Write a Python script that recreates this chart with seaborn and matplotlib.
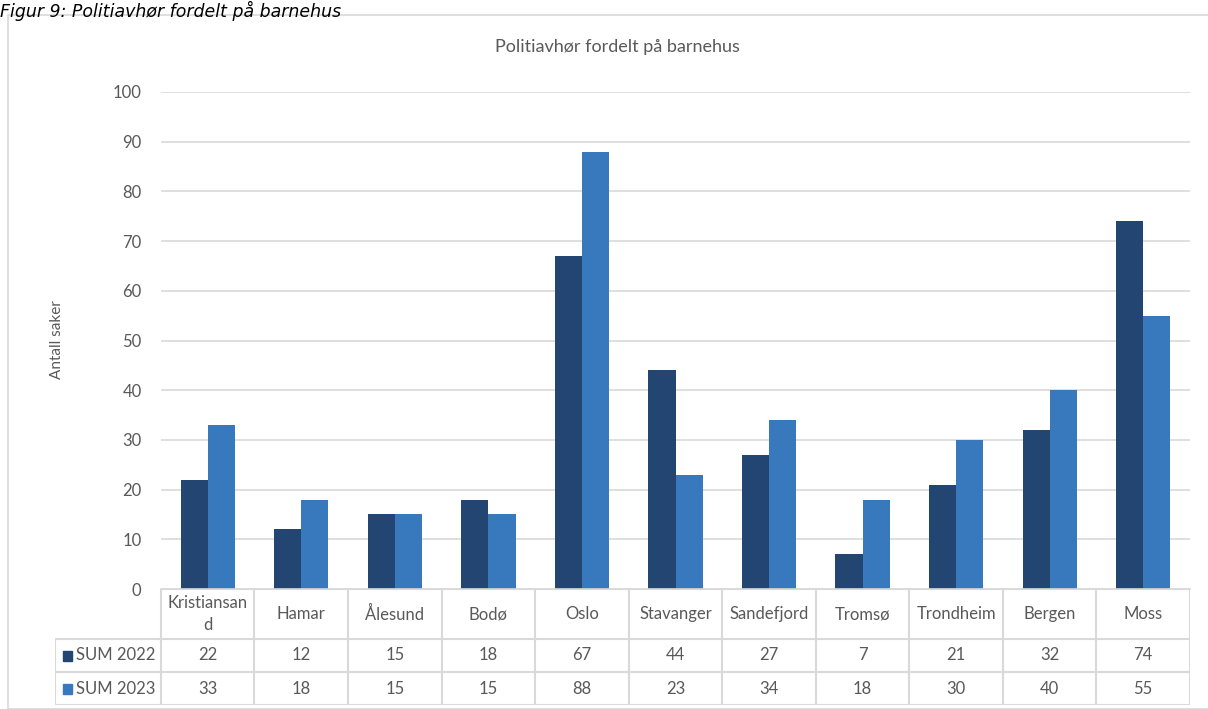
import seaborn as sns
import matplotlib.pyplot as plt
import pandas as pd
from matplotlib.patches import Rectangle

# data
steder = ['Kristiansand', 'Hamar', 'Ålesund', 'Bodø', 'Oslo', 'Stavanger',
          'Sandefjord', 'Tromsø', 'Trondheim', 'Bergen', 'Moss']
header_labels = ['Kristiansan\nd', 'Hamar', 'Ålesund', 'Bodø', 'Oslo', 'Stavanger',
                 'Sandefjord', 'Tromsø', 'Trondheim', 'Bergen', 'Moss']
sum_2022 = [22, 12, 15, 18, 67, 44, 27, 7, 21, 32, 74]
sum_2023 = [33, 18, 15, 15, 88, 23, 34, 18, 30, 40, 55]
serier = ['SUM 2022', 'SUM 2023']
farger = ['#234571', '#3878BD']

df = pd.DataFrame({
    'sted': steder * 2,
    'serie': [serier[0]] * len(steder) + [serier[1]] * len(steder),
    'antall': sum_2022 + sum_2023,
})

sns.set_style('white')
plt.rcParams['font.family'] = ['Lato', 'DejaVu Sans']
txt = '#595959'
grid = '#D9D9D9'

W, H = 1208, 709
fig = plt.figure(figsize=(W / 100, H / 100), dpi=100)

def px(x0, y0, x1, y1):
    return [x0 / W, 1 - y1 / H, (x1 - x0) / W, (y1 - y0) / H]

# chart border and caption
fig.patches.append(Rectangle((8 / W, 0), 1.2, 1 - 15 / H, transform=fig.transFigure,
                             fill=False, edgecolor='#D9D9D9', lw=1.2))
fig.text(0.0, 1 - 1 / H, 'Figur 9: Politiavhør fordelt på barnehus', fontsize=12.5,
         style='italic', family='DejaVu Sans', va='top', ha='left', color='#000000')

ax = fig.add_axes(px(161, 92, 1190, 589))
sns.barplot(data=df, x='sted', y='antall', hue='serie', palette=farger, width=0.58,
            ax=ax, legend=False, saturation=1, linewidth=0)
ax.set_ylim(0, 100)
ax.set_xlim(-0.5, len(steder) - 0.5)
ax.set_yticks(range(0, 101, 10))
ax.yaxis.grid(True, color=grid, lw=1.2)
ax.set_axisbelow(True)
for s in ['top', 'right', 'left']:
    ax.spines[s].set_visible(False)
ax.spines['bottom'].set_color(grid)
ax.spines['bottom'].set_linewidth(1.2)
ax.set_xticks([])
ax.set_xlabel('')
ax.set_ylabel('')
ax.tick_params(axis='y', length=0, pad=14, labelsize=12, labelcolor=txt)
fig.text(57 / W, 1 - 340 / H, 'Antall saker', rotation=90, fontsize=11, color=txt,
         ha='center', va='center')
fig.text(617 / W, 1 - 47 / H, 'Politiavhør fordelt på barnehus', fontsize=13,
         color=txt, ha='center', va='center')

# data table below the bars
tab = fig.add_axes(px(55, 589, 1190, 705))
left = -0.5 - 106 / 93.6
n = len(steder)
tab.set_xlim(left, n - 0.5)
tab.set_ylim(0, 116)
tab.axis('off')
# horizontal lines
tab.plot([-0.5, n - 0.5], [116, 116], color=grid, lw=1.5)
for y in [66, 33, 0]:
    tab.plot([left, n - 0.5], [y, y], color=grid, lw=1.5)
# vertical lines
tab.plot([left, left], [0, 66], color=grid, lw=1.5)
for i in range(n + 1):
    tab.plot([i - 0.5, i - 0.5], [0, 116], color=grid, lw=1.5)
for i, lab in enumerate(header_labels):
    tab.text(i, 91, lab, ha='center', va='center', fontsize=12, color=txt,
             linespacing=1.4)
    tab.text(i, 49.5, str(sum_2022[i]), ha='center', va='center', fontsize=12, color=txt)
    tab.text(i, 16.5, str(sum_2023[i]), ha='center', va='center', fontsize=12, color=txt)
for y, serie, farge in [(49.5, serier[0], farger[0]), (16.5, serier[1], farger[1])]:
    tab.add_patch(Rectangle((left + 0.085, y - 5), 0.1, 10, color=farge))
    tab.text(left + 0.22, y, serie, ha='left', va='center', fontsize=12, color=txt)

fig.savefig('out.png', dpi=100)
